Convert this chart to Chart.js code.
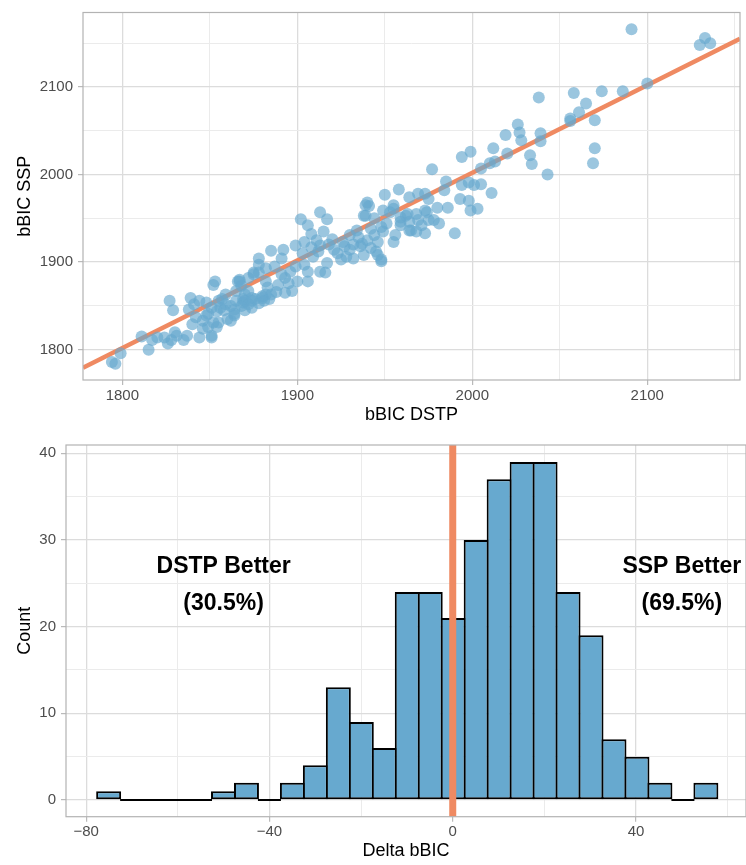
<!DOCTYPE html>
<html>
<head>
<meta charset="utf-8">
<title>bBIC DSTP vs SSP</title>
<script src="https://cdn.jsdelivr.net/npm/chart.js@4.4.1/dist/chart.umd.min.js"></script>
<style>
  html, body { margin: 0; padding: 0; background: #fff; }
  canvas { position: absolute; left: 0; }
  #scatterChart { top: 0; }
  #histChart { top: 430px; }
</style>
</head>
<body>
<canvas id="scatterChart" width="746" height="430"></canvas>
<canvas id="histChart" width="746" height="435"></canvas>
<script>
// bBIC per participant, DSTP model vs SSP model
const dstp = [
  2091,2133,2130,2136,2100,2086,2074,2058,2038,2065,2061,2056,2056,2070,2026,2027,2039,2028,2039,2019,
  2070,2069,2043,2033,2034,2020,2012,1994,1999,2010,2013,2005,1977,1985,1984,1994,1998,2001,2005,2011,
  1993,1998,1999,2003,1986,1980,1969,1964,1958,1950,1973,1975,1955,1949,1990,1981,1973,1968,1964,1955,
  1948,1945,1953,1962,1974,1978,1969,1959,1949,1944,1940,1939,1941,1938,1955,1944,1959,1963,1968,1973,
  1975,1964,1959,1951,1948,1942,1934,1930,1926,1965,1956,1946,1937,1932,1942,1971,
  1913,1917,1902,1906,1908,1904,1899,1892,1885,1878,1913,1920,1921,1928,1932,1925,1917,1912,1909,1904,
  1906,1899,1896,1900,1906,1913,1916,1936,1938,1939,1946,1948,1891,1887,1882,1878,1872,1867,1893,1889,
  1883,1897,1893,1885,1880,1874,1869,1875,
  1796,1794,1799,1811,1815,1817,1820,1824,1827,1829,1826,1828,1830,1831,1835,1837,1839,1838,1841,1844,
  1848,1851,1852,1853,1844,1840,1842,1846,1848,1849,1851,1846,1849,1852,1854,1855,1857,1859,1860,1859,
  1864,1865,1865,1866,1867,1868,1870,1872,1875,1876,1874,1880,1881,1882,1878,1882,1869,1862,1856,1862,
  1854,1851,1855,1864,1895,1891,1874,1870,1868,1872,1878,1884,1888,1864,1858,1870,
  1927,1935,1940,1930,1923,1911,1915,1918,1903,1908
];
const ssp = [
  2166,2156,2148,2150,2104,2095,2095,2093,2088,2081,2071,2064,2061,2062,2057,2048,2047,2039,2038,2045,
  2030,2013,2000,2022,2012,2024,2030,2020,2026,2013,2015,2007,2006,1992,1982,1988,1991,1988,1989,1979,
  1972,1970,1959,1961,1962,1962,1978,1974,1983,1977,1978,1972,1965,1959,1933,1944,1933,1935,1936,1923,
  1903,1912,1957,1953,1957,1948,1948,1946,1935,1931,1968,1965,1964,1953,1961,1950,1951,1955,1955,1959,
  1948,1946,1942,1944,1940,1938,1936,1931,1923,1936,1931,1923,1921,1920,1916,1942,
  1957,1949,1949,1942,1932,1923,1919,1914,1913,1904,1919,1926,1914,1906,1904,1903,1899,1912,1906,1897,
  1889,1895,1889,1878,1878,1889,1888,1918,1908,1953,1908,1901,1904,1895,1893,1888,1882,1878,1882,1874,
  1871,1867,1865,1863,1861,1859,1858,1888,
  1784,1786,1796,1815,1800,1811,1814,1814,1856,1845,1807,1811,1820,1816,1811,1816,1859,1846,1852,1856,
  1854,1848,1874,1878,1814,1829,1837,1833,1839,1841,1816,1824,1826,1831,1844,1856,1858,1863,1835,1852,
  1841,1856,1867,1878,1880,1873,1863,1867,1886,1858,1848,1859,1856,1863,1897,1878,1854,1850,1848,1833,
  1826,1814,1831,1839,1876,1886,1856,1856,1850,1852,1853,1858,1866,1846,1845,1845,
  1918,1928,1925,1914,1910,1925,1935,1920,1910,1917
];

// linear fit, evaluated at the ends of the x range
const fitX = [1777.5, 2153];
const fitY = [1779.5, 2155];

const scatterXRange = [1777.5, 2153];
const scatterYRange = [1765.4, 2185];
const scatterTicks = [1800, 1850, 1900, 1950, 2000, 2050, 2100, 2150];
const scatterMajor = [1800, 1900, 2000, 2100];

// histogram of delta bBIC (DSTP - SSP)
const binStart = -77.6;
const binWidth = 5.013;
const binCounts = [1, 0, 0, 0, 0, 1, 2, 0, 2, 4, 13, 9, 6, 24, 24, 21, 30, 37, 39, 39, 24, 19, 7, 5, 2, 0, 2];

const histXRange = [-84.4, 64];
const histYRange = [-1.93, 40.96];
const histXTicks = [-80, -60, -40, -20, 0, 20, 40, 60];
const histXMajor = [-80, -40, 0, 40];
const histYTicks = [0, 5, 10, 15, 20, 25, 30, 35, 40];
const histYMajor = [0, 10, 20, 30, 40];

const splitAt = 0;
const noteX = [-50, 50];
const noteY = [26.9, 22.6];
const noteText = [['DSTP Better', '(30.5%)'], ['SSP Better', '(69.5%)']];

const fontFamily = "'Liberation Sans', Arial, Helvetica, sans-serif";
Chart.defaults.font.family = fontFamily;

const blue = '#67A9CF';
const orange = '#EF8A62';

function fmt(v) {
  return v < 0 ? '\u2212' + Math.abs(v) : String(v);
}

function axis(range, tickVals, major, size, title, titlePad, tickPad, horizontal) {
  const isMajor = c => c.tick && major.includes(c.tick.value);
  return {
    type: 'linear',
    min: range[0],
    max: range[1],
    offset: false,
    afterBuildTicks: s => { s.ticks = tickVals.map(v => ({ value: v })); },
    afterFit: s => { if (horizontal) s.height = size; else s.width = size; },
    ticks: {
      color: '#4D4D4D',
      font: { size: 15, lineHeight: 1 },
      padding: tickPad,
      autoSkip: false,
      maxRotation: 0,
      callback: v => major.includes(v) ? fmt(v) : ''
    },
    grid: {
      offset: false,
      drawTicks: true,
      tickLength: 5,
      tickWidth: 1.1,
      color: c => isMajor(c) ? '#DCDCDC' : '#EBEBEB',
      lineWidth: c => isMajor(c) ? 1.3 : 1,
      tickColor: c => isMajor(c) ? '#B3B3B3' : 'rgba(0,0,0,0)'
    },
    border: { display: false },
    title: {
      display: true,
      text: title,
      color: '#000',
      font: { size: 18, lineHeight: 1 },
      padding: titlePad
    }
  };
}

// grey frame round the plotting panel
const panelBorder = {
  id: 'panelBorder',
  afterDraw(chart) {
    const { ctx, chartArea: a } = chart;
    ctx.save();
    ctx.strokeStyle = '#B3B3B3';
    ctx.lineWidth = 1.2;
    ctx.strokeRect(a.left, a.top, a.right - a.left, a.bottom - a.top);
    ctx.restore();
  }
};

// split line at zero and the two labels either side
const histNotes = {
  id: 'histNotes',
  afterDatasetsDraw(chart) {
    const { ctx, chartArea: a, scales: { x, y } } = chart;
    const px = x.getPixelForValue(splitAt);
    ctx.save();
    ctx.fillStyle = orange;
    ctx.fillRect(px - 3.5, a.top, 7, a.bottom - a.top);
    ctx.fillStyle = '#000';
    ctx.font = 'bold 23px ' + fontFamily;
    ctx.textAlign = 'center';
    ctx.textBaseline = 'middle';
    noteText.forEach((lines, i) => {
      lines.forEach((t, j) => {
        ctx.fillText(t, x.getPixelForValue(noteX[i]), y.getPixelForValue(noteY[j]));
      });
    });
    ctx.restore();
  }
};

// scatter
new Chart(document.getElementById('scatterChart'), {
  type: 'scatter',
  data: {
    datasets: [
      {
        data: dstp.map((v, i) => ({ x: v, y: ssp[i] })),
        backgroundColor: 'rgba(103,169,207,0.66)',
        borderWidth: 0,
        pointRadius: 6,
        order: 0
      },
      {
        type: 'line',
        data: fitX.map((v, i) => ({ x: v, y: fitY[i] })),
        borderColor: orange,
        borderWidth: 4.5,
        pointRadius: 0,
        order: 1
      }
    ]
  },
  options: {
    responsive: false,
    animation: false,
    devicePixelRatio: 1,
    events: [],
    layout: { padding: { top: 8, right: 0, left: 0, bottom: 0 } },
    plugins: { legend: { display: false }, tooltip: { enabled: false } },
    scales: {
      x: axis(scatterXRange, scatterTicks, scatterMajor, 50, 'bBIC DSTP', { bottom: 6 }, 3, true),
      y: axis(scatterYRange, scatterTicks, scatterMajor, 83, 'bBIC SSP', { top: 16 }, 5, false)
    }
  },
  plugins: [panelBorder]
});

// histogram
const binCenters = binCounts.map((c, i) => binStart + (i + 0.5) * binWidth);
const emptyBins = [];
binCounts.forEach((c, i) => {
  if (c === 0) {
    const lo = binStart + i * binWidth;
    emptyBins.push({ x: lo, y: 0 }, { x: lo + binWidth, y: 0 }, { x: lo + binWidth, y: null });
  }
});

new Chart(document.getElementById('histChart'), {
  type: 'bar',
  data: {
    datasets: [
      {
        data: binCenters.map((x, i) => ({ x: x, y: binCounts[i] })),
        backgroundColor: blue,
        borderColor: '#000',
        borderWidth: 2,
        borderSkipped: false,
        barPercentage: 1.087,
        categoryPercentage: 1,
        order: 1
      },
      {
        type: 'line',
        data: emptyBins,
        borderColor: '#000',
        borderWidth: 2,
        pointRadius: 0,
        spanGaps: false,
        order: 0
      }
    ]
  },
  options: {
    responsive: false,
    animation: false,
    devicePixelRatio: 1,
    events: [],
    layout: { padding: { top: 15, right: 0, left: 0, bottom: 0 } },
    plugins: { legend: { display: false }, tooltip: { enabled: false } },
    scales: {
      x: axis(histXRange, histXTicks, histXMajor, 48.3, 'Delta bBIC', { bottom: 5 }, 3, true),
      y: axis(histYRange, histYTicks, histYMajor, 66, 'Count', { top: 16 }, 5, false)
    }
  },
  plugins: [panelBorder, histNotes]
});
</script>
</body>
</html>
